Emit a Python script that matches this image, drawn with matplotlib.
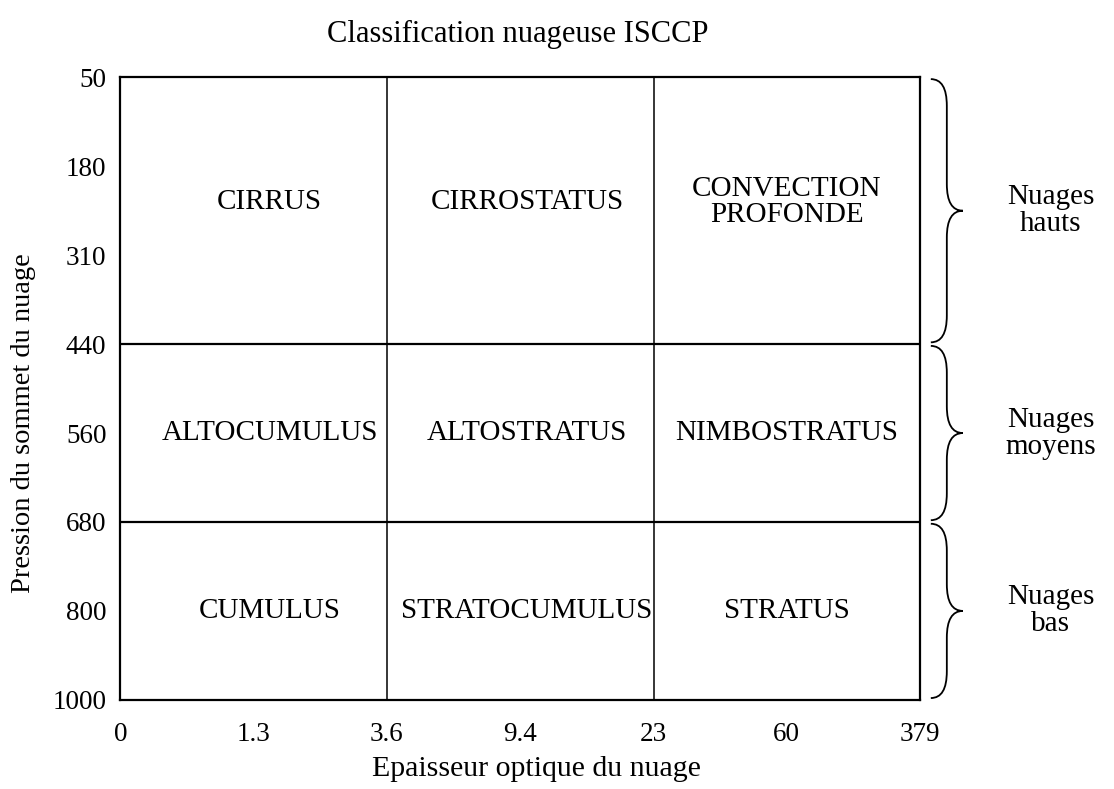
"""ISCCP cloud classification diagram (optical thickness vs cloud-top pressure)."""

import matplotlib

matplotlib.use("Agg")
import matplotlib.pyplot as plt
from matplotlib.patches import PathPatch
from matplotlib.path import Path

plt.rcParams.update(
    {
        "font.family": ["Liberation Serif", "DejaVu Serif"],
        "font.size": 21,
    }
)

# Axis levels (drawn at equal spacing, like the original diagram)
tau_levels = ["0", "1.3", "3.6", "9.4", "23", "60", "379"]
pressure_levels = ["50", "180", "310", "440", "560", "680", "800", "1000"]

# Class boundaries
tau_bounds = ["3.6", "23"]
pressure_bounds = ["440", "680"]

# Minor (inside) ticks
tau_ticks = ["1.3", "9.4", "60"]
pressure_ticks = ["180", "310", "560", "800"]

# Cell names, one row per height class
cloud_types = [
    ["CIRRUS", "CIRROSTATUS", "CONVECTION\nPROFONDE"],
    ["ALTOCUMULUS", "ALTOSTRATUS", "NIMBOSTRATUS"],
    ["CUMULUS", "STRATOCUMULUS", "STRATUS"],
]

# Height groups shown with braces on the right
groups = ["Nuages\nhauts", "Nuages\nmoyens", "Nuages\nbas"]
group_spans = [("50", "440"), ("440", "680"), ("680", "1000")]


def xi(v):
    return tau_levels.index(v)


def yi(v):
    return pressure_levels.index(v)


def draw_brace(ax, y0, y1, x_base, x_mid, x_tip, r=0.3, lw=1.3):
    ym = 0.5 * (y0 + y1)
    verts = [
        (x_base, y0), (x_mid, y0), (x_mid, y0 + r),
        (x_mid, ym - r),
        (x_mid, ym), (x_tip, ym),
        (x_mid, ym), (x_mid, ym + r),
        (x_mid, y1 - r),
        (x_mid, y1), (x_base, y1),
    ]
    codes = [
        Path.MOVETO, Path.CURVE3, Path.CURVE3,
        Path.LINETO,
        Path.CURVE3, Path.CURVE3,
        Path.CURVE3, Path.CURVE3,
        Path.LINETO,
        Path.CURVE3, Path.CURVE3,
    ]
    patch = PathPatch(Path(verts, codes), fill=False, lw=lw, color="black",
                      clip_on=False)
    ax.add_patch(patch)


fig = plt.figure(figsize=(11.14, 7.89), dpi=100)
ax = fig.add_axes([0.108, 0.113, 0.718, 0.789])

ax.set_xlim(0, len(tau_levels) - 1)
ax.set_ylim(len(pressure_levels) - 1, 0)

for side in ax.spines.values():
    side.set_linewidth(1.6)

# Major ticks carry only the labels
ax.set_xticks(range(len(tau_levels)))
ax.set_xticklabels(tau_levels)
ax.set_yticks(range(len(pressure_levels)))
ax.set_yticklabels(pressure_levels)
ax.tick_params(axis="both", which="major", length=0, labelsize=19.5)
ax.tick_params(axis="x", which="major", pad=16)
ax.tick_params(axis="y", which="major", pad=10)

# Minor inward ticks on all four sides
ax.set_xticks([xi(t) for t in tau_ticks], minor=True)
ax.set_yticks([yi(p) for p in pressure_ticks], minor=True)
ax.tick_params(axis="both", which="minor", direction="in", length=10,
               width=1.3, top=True, right=True)

# Class boundaries
for t in tau_bounds:
    ax.axvline(xi(t), color="black", lw=1.1)
for p in pressure_bounds:
    ax.axhline(yi(p), color="black", lw=1.6)

# Cell names
row_y = [1.4, yi("560"), yi("800")]
col_x = [xi("1.3") + 0.12, xi("9.4") + 0.05, xi("60")]
for r, row in enumerate(cloud_types):
    for c, name in enumerate(row):
        ax.text(col_x[c], row_y[r], name, ha="center", va="center",
                linespacing=1.0)

# Braces and group names
n = len(tau_levels) - 1
for label, (top, bottom) in zip(groups, group_spans):
    y0, y1 = yi(top) + 0.02, yi(bottom) - 0.02
    draw_brace(ax, y0, y1, n + 0.08, n + 0.2, n + 0.32)
    ax.text(n + 0.98, 0.5 * (y0 + y1), label, ha="center", va="center",
            linespacing=1.05, clip_on=False)

ax.set_xlabel("Epaisseur optique du nuage", fontsize=21.5)
ax.xaxis.set_label_coords(0.52, -0.09)
ax.set_ylabel("Pression du sommet du nuage", fontsize=20.5)
ax.yaxis.set_label_coords(-0.105, 0.445)
fig.text(0.465, 0.956, "Classification nuageuse ISCCP", ha="center",
         va="center", fontsize=22)

fig.savefig("out.png", dpi=100)
plt.close(fig)
